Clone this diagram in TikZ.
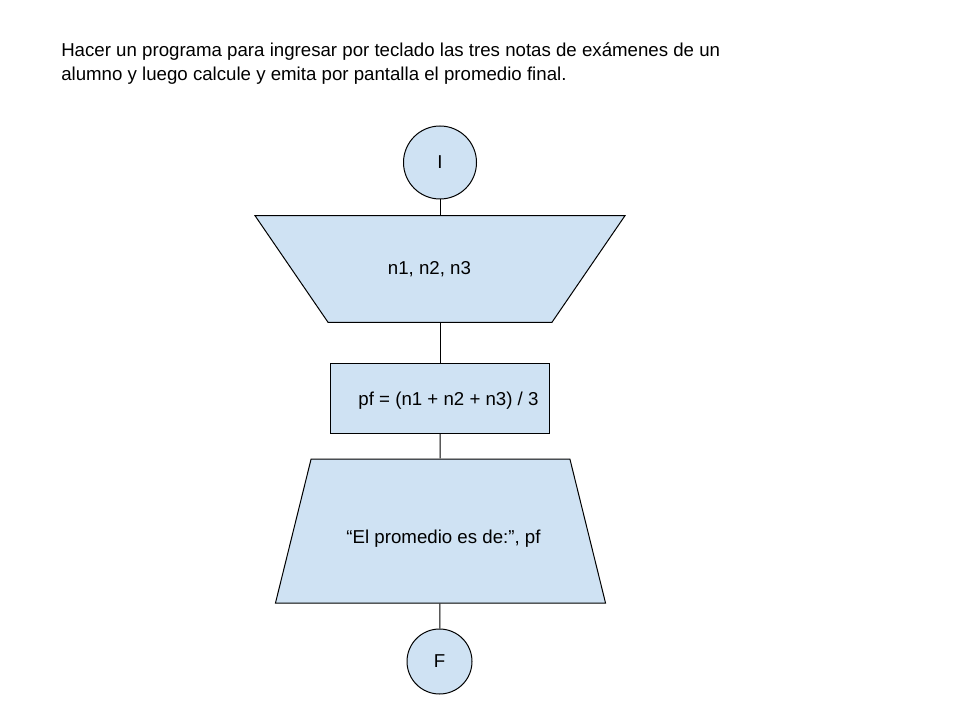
\documentclass[tikz,border=0pt]{standalone}
\usepackage{fontspec}
\setmainfont{Liberation Sans}
\usetikzlibrary{shapes.geometric}
\newlength\pxu
\setlength\pxu{0.75pt}
\definecolor{celeste}{RGB}{207,226,243}
\tikzset{
    %Define standard line
    linea/.style={
           draw=black,
           line width=0.75pt,
           },
    %Define style for start and end
    terminal/.style={
           circle,
           linea,
           fill=celeste,
           inner sep=0pt,
           },
    %Define style for input
    entrada/.style={
           trapezium,
           linea,
           fill=celeste,
           shape border rotate=180,
           trapezium angle=55.6,
           inner xsep=112\pxu,
           inner ysep=53.25\pxu,
           },
    %Define style for process
    proceso/.style={
           rectangle,
           linea,
           fill=celeste,
           minimum width=219\pxu,
           minimum height=70\pxu,
           },
    %Define style for output
    salida/.style={
           trapezium,
           linea,
           fill=celeste,
           trapezium angle=76.1,
           inner xsep=129.4\pxu,
           inner ysep=72\pxu,
           },
}

\begin{document}
\begin{tikzpicture}[x=0.75pt,y=-0.75pt,font=\fontsize{14}{18}\selectfont]
\useasboundingbox (0,0) rectangle (960,720);
 %text
\node[anchor=base west, align=left, inner sep=0pt](enunciado) at (61,80.7){Hacer un programa para ingresar por teclado las tres notas de ex\'amenes de un\\alumno y luego calcule y emita por pantalla el promedio final.};
 %nodes
\node[terminal, minimum size=73\pxu](I) at (440,162.5){I};
\node[entrada, label={[xshift=-10.5\pxu]center:{n1, n2, n3}}](leer) at (440,269){};
\node[proceso, label={[xshift=8.5\pxu, yshift=-3\pxu]center:{pf = (n1 + n2 + n3) / 3}}](calculo) at (440,398){};
\node[salida, label={[xshift=3\pxu, yshift=-8\pxu]center:{“El promedio es de:”, pf}}](mostrar) at (440.5,531){};
\node[terminal, minimum size=65\pxu](F) at (439.5,661.5){F};
 %connectors
\path[linea]
    (I) edge (leer)
    (leer) edge (calculo)
    (calculo) edge (mostrar)
    (mostrar) edge (F);
\end{tikzpicture}
\end{document}
